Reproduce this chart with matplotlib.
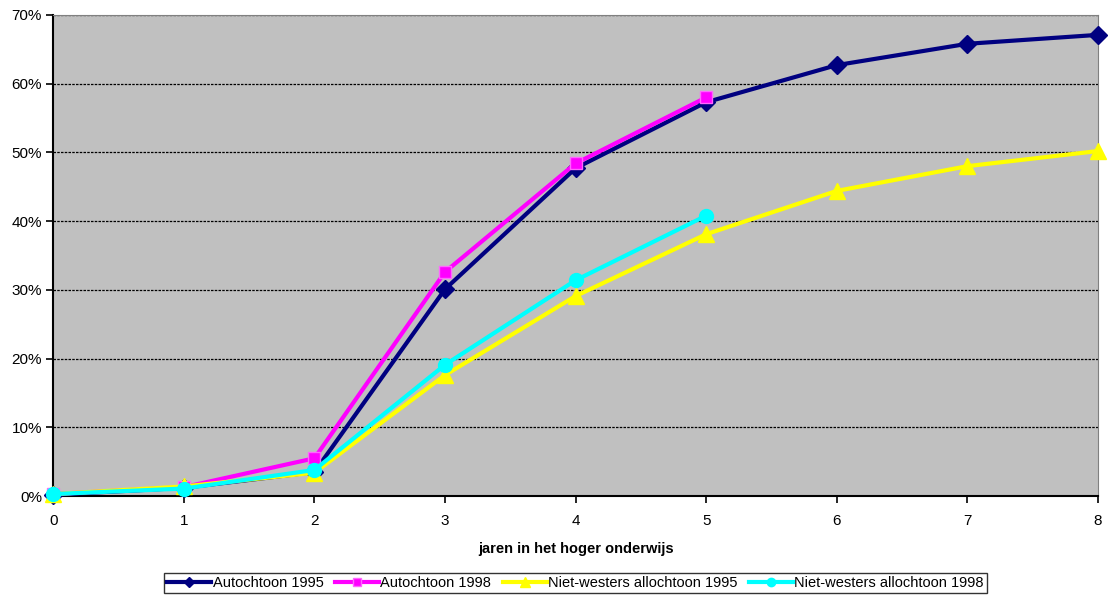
import numpy as np
import matplotlib
matplotlib.use('Agg')
import matplotlib.pyplot as plt
from matplotlib.ticker import PercentFormatter

plt.rcParams['font.family'] = ['Liberation Sans', 'DejaVu Sans']

# data (percentages)
years = [0, 1, 2, 3, 4, 5, 6, 7, 8]
auto_1995 = [0.2, 1.2, 3.5, 30.1, 47.7, 57.3, 62.7, 65.8, 67.1]
auto_1998 = [0.3, 1.3, 5.5, 32.6, 48.4, 58.0]
nw_1995 = [0.3, 1.4, 3.4, 17.6, 29.1, 38.1, 44.4, 48.0, 50.2]
nw_1998 = [0.3, 1.1, 3.8, 19.1, 31.4, 40.8]
labels = ['Autochtoon 1995', 'Autochtoon 1998',
          'Niet-westers allochtoon 1995', 'Niet-westers allochtoon 1998']

fig = plt.figure(figsize=(11.08, 5.97), dpi=100)
ax = fig.add_axes([0.048, 0.169, 0.943, 0.806])
ax.set_facecolor('#C0C0C0')

ax.plot(years, auto_1995, color='#000080', lw=3, marker='D', ms=9, label=labels[0], zorder=3)
ax.plot(years[:len(auto_1998)], auto_1998, color='#FF00FF', lw=3, marker='s', ms=9,
        markeredgecolor='#FF66FF', label=labels[1], zorder=3)
ax.plot(years, nw_1995, color='#FFFF00', lw=3, marker='^', ms=11, label=labels[2], zorder=3)
ax.plot(years[:len(nw_1998)], nw_1998, color='#00FFFF', lw=3, marker='o', ms=10, label=labels[3], zorder=4)

ax.set_xlim(0, 8)
ax.set_ylim(0, 70)
ax.set_xticks(years)
ax.set_yticks(np.arange(0, 71, 10))
ax.yaxis.set_major_formatter(PercentFormatter(decimals=0))
ax.grid(axis='y', color='black', ls=(0, (2, 1)), lw=0.9)
ax.set_axisbelow(True)
ax.tick_params(labelsize=11, length=5, width=1.2, direction='out')
ax.tick_params(axis='y', pad=3)
ax.tick_params(axis='x', pad=8)

ax.spines['left'].set_linewidth(1.5)
ax.spines['bottom'].set_linewidth(1.5)
ax.spines['top'].set_color('#808080')
ax.spines['right'].set_color('#808080')

ax.set_xlabel('jaren in het hoger onderwijs', fontsize=10.5, fontweight='bold', labelpad=10)

for ln in ax.get_lines():
    ln.set_clip_on(False)

leg = ax.legend(loc='upper center', bbox_to_anchor=(0.5, -0.145), ncol=4, fontsize=10.5,
                frameon=True, fancybox=False, edgecolor='black', handlelength=3,
                handletextpad=0.1, columnspacing=0.8, borderpad=0.2, markerscale=0.6)
leg.get_frame().set_linewidth(1.0)

fig.savefig('out.png', dpi=100)
